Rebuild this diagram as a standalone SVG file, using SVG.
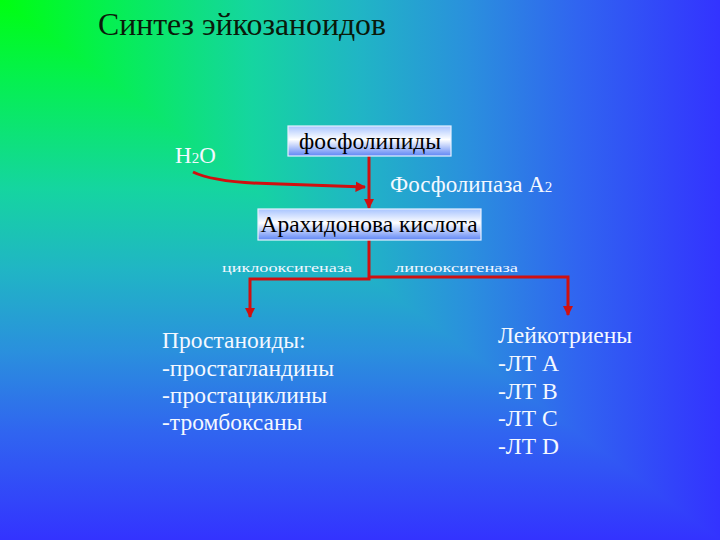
<svg xmlns="http://www.w3.org/2000/svg" width="720" height="540" viewBox="0 0 720 540">
  <defs>
    <linearGradient id="bgH" x1="0" y1="0" x2="720" y2="0" gradientUnits="userSpaceOnUse">
      <stop offset="0" stop-color="#00ff10"/>
      <stop offset="0.15" stop-color="#05f050"/>
      <stop offset="0.35" stop-color="#15d5a0"/>
      <stop offset="0.5" stop-color="#20b5c5"/>
      <stop offset="0.65" stop-color="#2a90dd"/>
      <stop offset="0.8" stop-color="#3065f0"/>
      <stop offset="1" stop-color="#3333ff"/>
    </linearGradient>
    <linearGradient id="bgV" x1="0" y1="0" x2="0" y2="540" gradientUnits="userSpaceOnUse">
      <stop offset="0" stop-color="#00ff10"/>
      <stop offset="0.15" stop-color="#05f050"/>
      <stop offset="0.35" stop-color="#15d5a0"/>
      <stop offset="0.5" stop-color="#20b5c5"/>
      <stop offset="0.65" stop-color="#2a90dd"/>
      <stop offset="0.8" stop-color="#3065f0"/>
      <stop offset="1" stop-color="#3333ff"/>
    </linearGradient>
    <linearGradient id="boxFill" x1="0" y1="0" x2="0" y2="1">
      <stop offset="0" stop-color="#a8c4ff"/>
      <stop offset="0.45" stop-color="#ffffff"/>
      <stop offset="1" stop-color="#5f86f5"/>
    </linearGradient>
    <marker id="arrow" viewBox="0 0 10 10" refX="9" refY="5" markerWidth="3.5" markerHeight="3.5" orient="auto" markerUnits="strokeWidth">
      <path d="M0,0 L10,5 L0,10 z" fill="#d01010"/>
    </marker>
    <style>
      .box { fill: url(#boxFill); stroke: #e6f0ff; stroke-width: 1.2; }
      .boxText { font-family: "Liberation Serif", "Times New Roman", serif; font-size: 23.5px; fill: #000000; text-anchor: middle; }
      .white { font-family: "Liberation Serif", "Times New Roman", serif; fill: #f4f8ff; }
      .conn { fill: none; stroke: #d01010; stroke-width: 3; }
    </style>
  </defs>

  <g id="background">
    <rect x="0" y="0" width="720" height="540" fill="url(#bgV)"/>
    <polygon points="0,0 720,0 720,540" fill="url(#bgH)" shape-rendering="crispEdges"/>
  </g>

  <g id="title">
    <text x="98" y="35" font-family="Liberation Serif, Times New Roman, serif" font-size="32" fill="#0a1a0a" textLength="288" lengthAdjust="spacingAndGlyphs">Синтез эйкозаноидов</text>
  </g>

  <g id="connectors">
    <path class="conn" d="M193,172 Q215,183 280,184 L365,187" marker-end="url(#arrow)"/>
    <path class="conn" d="M369,156 V208" marker-end="url(#arrow)"/>
    <path class="conn" d="M369,240 V279 H250 V317" marker-end="url(#arrow)"/>
    <path class="conn" d="M369,277 H568 V315" marker-end="url(#arrow)"/>
  </g>

  <g id="node-phospholipids">
    <rect class="box" x="288" y="126" width="163" height="30"/>
    <text class="boxText" x="370" y="149">фосфолипиды</text>
  </g>

  <g id="node-arachidonic">
    <rect class="box" x="258" y="209" width="223" height="31"/>
    <text class="boxText" x="369" y="232">Арахидонова кислота</text>
  </g>

  <g id="label-h2o">
    <text class="white" x="175" y="163" font-size="23">H<tspan font-size="15">2</tspan>O</text>
  </g>

  <g id="label-pla2">
    <text class="white" x="390" y="192" font-size="23">Фосфолипаза A<tspan font-size="15">2</tspan></text>
  </g>

  <g id="label-cox">
    <text class="white" x="222" y="272" font-size="13" textLength="130" lengthAdjust="spacingAndGlyphs">циклооксигеназа</text>
  </g>

  <g id="label-lox">
    <text class="white" x="395" y="272" font-size="13" textLength="123" lengthAdjust="spacingAndGlyphs">липооксигеназа</text>
  </g>

  <g id="node-prostanoids">
    <text class="white" font-size="23.5">
      <tspan x="162" y="348">Простаноиды:</tspan>
      <tspan x="162" y="376">-простагландины</tspan>
      <tspan x="162" y="403">-простациклины</tspan>
      <tspan x="162" y="430">-тромбоксаны</tspan>
    </text>
  </g>

  <g id="node-leukotrienes">
    <text class="white" font-size="23.5">
      <tspan x="498" y="343">Лейкотриены</tspan>
      <tspan x="498" y="371">-ЛТ A</tspan>
      <tspan x="498" y="399">-ЛТ B</tspan>
      <tspan x="498" y="426">-ЛТ C</tspan>
      <tspan x="498" y="454">-ЛТ D</tspan>
    </text>
  </g>
</svg>
